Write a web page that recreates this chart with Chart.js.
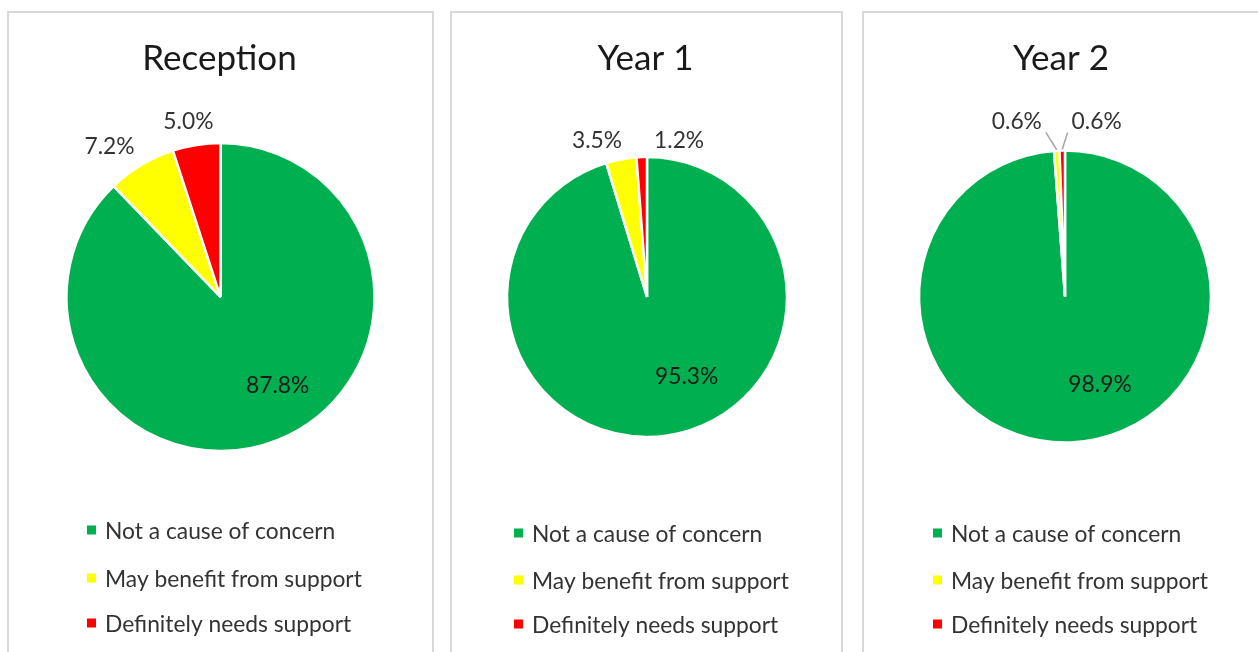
<!DOCTYPE html>
<html>
<head>
<meta charset="utf-8">
<title>Wellbeing by year group</title>
<script src="https://cdn.jsdelivr.net/npm/chart.js@4/dist/chart.umd.min.js"></script>
<style>
  html, body { margin: 0; padding: 0; background: #ffffff; overflow: hidden; width: 1258px; height: 652px; }
  .panel { position: absolute; box-sizing: border-box; border: 2px solid #d9d9d9; background: #ffffff; }
  canvas { position: absolute; }
</style>
</head>
<body>
<script>
// Categories, series and year-group titles
const categories = ['Not a cause of concern', 'May benefit from support', 'Definitely needs support'];
const yearGroups = ['Reception', 'Year 1', 'Year 2'];
const receptionValues = [87.8, 7.2, 5.0];
const year1Values = [95.3, 3.5, 1.2];
const year2Values = [98.9, 0.6, 0.6];
const sliceColours = ['#00B050', '#FFFF00', '#FF0000'];
const seriesValues = [receptionValues, year1Values, year2Values];

// Panel frames and pie geometry (page pixels)
const PANEL_TOP = 11;
const PANEL_H = 660;
const panels = [
  { left: 7,   width: 427, cx: 220.5, cy: 297,   r: 153, legendX: 87,  legendBase: [539, 587, 632] },
  { left: 450, width: 393, cx: 647,   cy: 297,   r: 139, legendX: 514, legendBase: [542, 589, 633] },
  { left: 862, width: 400, cx: 1065,  cy: 296.5, r: 145, legendX: 933, legendBase: [542, 589, 633] }
];
// Data label spots: [angle in degrees, distance as a share of radius, leader line]
const labelSpots = [
  [[56.9, 0.68, false], [-126.2, 1.22, false], [-100.3, 1.165, false]],
  [[63.3, 0.63, false], [-107.6, 1.18, false], [-78.5, 1.15, false]],
  [[68, 0.64, false], [-105.3, 1.25, true], [-79.8, 1.225, true]]
];

const FONT = "Lato, 'Open Sans', sans-serif";
const TITLE_SIZE = 35;
const TEXT_SIZE = 22.8;
const TEXT_COLOUR = '#333333';

// Draws the title, the percentage labels and the stacked legend of a panel
const panelDecor = {
  id: 'panelDecor',
  afterDraw(chart, args, opts) {
    const ctx = chart.ctx;
    const p = opts.panel;
    const meta = chart.getDatasetMeta(0);
    const values = chart.data.datasets[0].data;
    const colours = chart.data.datasets[0].backgroundColor;
    ctx.save();

    // title
    ctx.fillStyle = '#1a1a1a';
    ctx.font = `${TITLE_SIZE}px ${FONT}`;
    ctx.textAlign = 'center';
    ctx.textBaseline = 'alphabetic';
    ctx.fillText(opts.title, chart.width / 2 - 1, 70 - PANEL_TOP);

    // percentage labels
    ctx.font = `${TEXT_SIZE}px ${FONT}`;
    const capH = ctx.measureText('0').actualBoundingBoxAscent;
    meta.data.forEach((arc, i) => {
      const [deg, dist, leader] = opts.spots[i];
      const a = deg * Math.PI / 180;
      const lx = arc.x + Math.cos(a) * dist * arc.outerRadius;
      const ly = arc.y + Math.sin(a) * dist * arc.outerRadius;
      const text = values[i].toFixed(1) + '%';
      ctx.fillStyle = i === 0 ? '#1a1a1a' : TEXT_COLOUR;
      ctx.textAlign = 'center';
      ctx.fillText(text, lx, ly + capH / 2);
      if (leader) {
        const w = ctx.measureText(text).width;
        const mid = (arc.startAngle + arc.endAngle) / 2;
        const ex = arc.x + Math.cos(mid) * (arc.outerRadius + 1);
        const ey = arc.y + Math.sin(mid) * (arc.outerRadius + 1);
        const dir = ex > lx ? 1 : -1;
        const sx = lx + dir * (w / 2 + 4);
        const sy = ly + capH / 2 + 3.5;
        ctx.strokeStyle = '#a6a6a6';
        ctx.lineWidth = 1.5;
        ctx.beginPath();
        ctx.moveTo(sx, sy);
        ctx.lineTo(ex, ey);
        ctx.stroke();
      }
    });

    // legend
    ctx.textAlign = 'left';
    chart.data.labels.forEach((label, i) => {
      const base = p.legendBase[i] - PANEL_TOP;
      const x = p.legendX - p.left;
      ctx.fillStyle = colours[i];
      ctx.fillRect(x, base - capH / 2 - 5, 9, 9);
      ctx.fillStyle = TEXT_COLOUR;
      ctx.fillText(label, x + 18, base);
    });
    ctx.restore();
  }
};

yearGroups.forEach((title, k) => {
  const p = panels[k];
  const frame = document.createElement('div');
  frame.className = 'panel';
  Object.assign(frame.style, { left: p.left + 'px', top: PANEL_TOP + 'px', width: p.width + 'px', height: PANEL_H + 'px' });
  document.body.appendChild(frame);

  const canvas = document.createElement('canvas');
  canvas.width = p.width;
  canvas.height = PANEL_H;
  Object.assign(canvas.style, { left: p.left + 'px', top: PANEL_TOP + 'px', width: p.width + 'px', height: PANEL_H + 'px' });
  document.body.appendChild(canvas);

  const cx = p.cx - p.left;
  const cy = p.cy - PANEL_TOP;
  const m = 12;

  new Chart(canvas, {
    type: 'pie',
    data: {
      labels: categories,
      datasets: [{
        data: seriesValues[k],
        backgroundColor: sliceColours,
        borderColor: '#ffffff',
        borderWidth: 2.5,
        hoverOffset: 0
      }]
    },
    options: {
      responsive: false,
      animation: false,
      devicePixelRatio: 1,
      radius: p.r + 1,
      layout: {
        padding: {
          left: cx - p.r - m,
          right: p.width - cx - p.r - m,
          top: cy - p.r - m,
          bottom: PANEL_H - cy - p.r - m
        }
      },
      plugins: {
        legend: { display: false },
        tooltip: { enabled: false },
        title: { display: false },
        panelDecor: { panel: p, title: title, spots: labelSpots[k] }
      }
    },
    plugins: [panelDecor]
  });
});
</script>
</body>
</html>
